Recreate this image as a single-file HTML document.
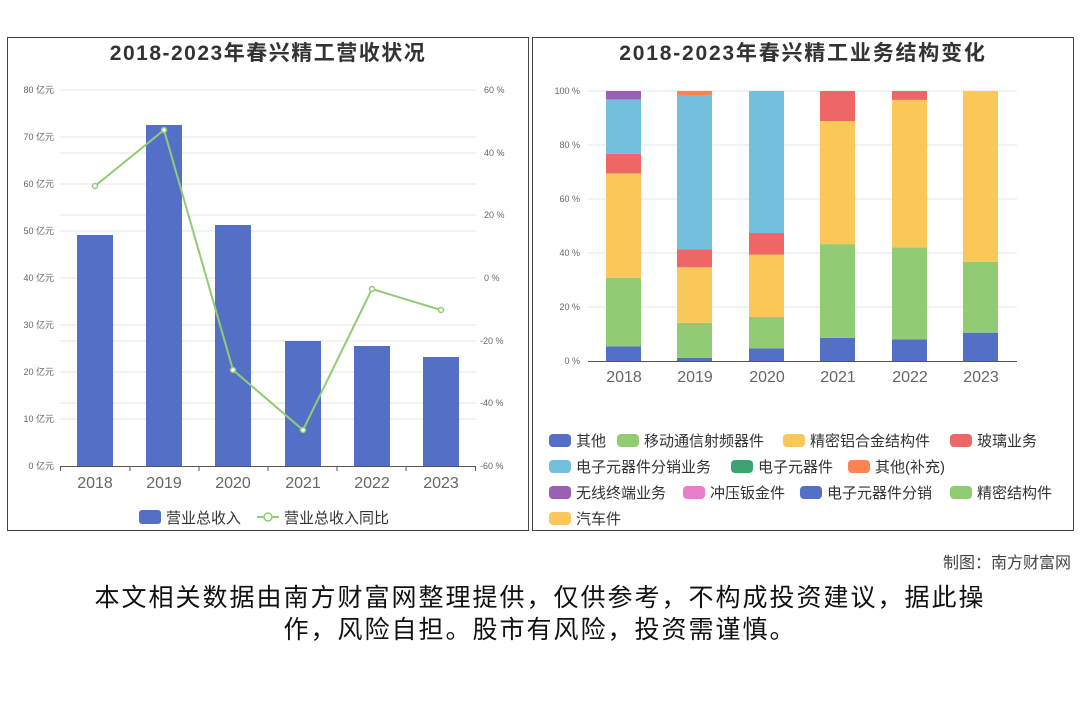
<!DOCTYPE html>
<html><head><meta charset="utf-8"><style>
body{margin:0;background:#fff;width:1080px;height:720px;overflow:hidden;font-family:"Liberation Sans","Noto Sans CJK SC",sans-serif}
</style></head><body>
<svg width="1080" height="720" xmlns="http://www.w3.org/2000/svg" font-family="Liberation Sans, Noto Sans CJK SC, sans-serif">
<rect x="7.5" y="37.5" width="521" height="493" fill="#fff" stroke="#444"/>
<rect x="532.5" y="37.5" width="541" height="493" fill="#fff" stroke="#444"/>
<text x="268" y="60" text-anchor="middle" font-size="21" font-weight="bold" fill="#333" letter-spacing="1.5">2018-2023年春兴精工营收状况</text>
<text x="803" y="60" text-anchor="middle" font-size="21" font-weight="bold" fill="#333" letter-spacing="1.8">2018-2023年春兴精工业务结构变化</text>
<g stroke="#e6e6e6">
<line x1="60" x2="476" y1="90" y2="90"/><line x1="60" x2="476" y1="137" y2="137"/><line x1="60" x2="476" y1="184" y2="184"/><line x1="60" x2="476" y1="231" y2="231"/><line x1="60" x2="476" y1="278" y2="278"/><line x1="60" x2="476" y1="325" y2="325"/><line x1="60" x2="476" y1="372" y2="372"/><line x1="60" x2="476" y1="419" y2="419"/>
<line x1="60" x2="476" y1="153" y2="153"/><line x1="60" x2="476" y1="215" y2="215"/><line x1="60" x2="476" y1="341" y2="341"/><line x1="60" x2="476" y1="403" y2="403"/>
</g>
<g font-size="9" fill="#666" text-anchor="end">
<text x="54" y="93">80 亿元</text><text x="54" y="140">70 亿元</text><text x="54" y="187">60 亿元</text><text x="54" y="234">50 亿元</text><text x="54" y="281">40 亿元</text><text x="54" y="328">30 亿元</text><text x="54" y="375">20 亿元</text><text x="54" y="422">10 亿元</text><text x="54" y="469">0 亿元</text>
</g>
<g font-size="9" fill="#666">
<text x="484" y="93">60 %</text><text x="484" y="218">20 %</text><text x="484" y="156">40 %</text><text x="484" y="281">0 %</text><text x="480" y="344">-20 %</text><text x="480" y="406">-40 %</text><text x="480" y="469">-60 %</text>
</g>
<g fill="#5470c6">
<rect x="77" y="235" width="36" height="231"/><rect x="146" y="125" width="36" height="341"/><rect x="215" y="225" width="36" height="241"/><rect x="285" y="341" width="36" height="125"/><rect x="354" y="346" width="36" height="120"/><rect x="423" y="357" width="36" height="109"/>
</g>
<line x1="60" x2="476" y1="466.5" y2="466.5" stroke="#555"/>
<g stroke="#555"><line x1="60.5" x2="60.5" y1="466" y2="471"/><line x1="130" x2="130" y1="466" y2="471"/><line x1="199" x2="199" y1="466" y2="471"/><line x1="268" x2="268" y1="466" y2="471"/><line x1="337" x2="337" y1="466" y2="471"/><line x1="406" x2="406" y1="466" y2="471"/><line x1="475.5" x2="475.5" y1="466" y2="471"/></g>
<g font-size="16" fill="#666" text-anchor="middle">
<text x="95" y="488">2018</text><text x="164" y="488">2019</text><text x="233" y="488">2020</text><text x="303" y="488">2021</text><text x="372" y="488">2022</text><text x="441" y="488">2023</text>
</g>
<polyline points="95,186 164,130 233,370 303,430 372,289 441,310" fill="none" stroke="#91cc75" stroke-width="2"/>
<g fill="#fff" stroke="#91cc75" stroke-width="1.5"><circle cx="95" cy="186" r="2.5"/><circle cx="164" cy="130" r="2.5"/><circle cx="233" cy="370" r="2.5"/><circle cx="303" cy="430" r="2.5"/><circle cx="372" cy="289" r="2.5"/><circle cx="441" cy="310" r="2.5"/></g>
<rect x="139" y="510" width="22" height="14" rx="3" fill="#5470c6"/>
<text x="166" y="523" font-size="15" fill="#333">营业总收入</text>
<line x1="257" x2="279" y1="517" y2="517" stroke="#91cc75" stroke-width="2"/><circle cx="268" cy="517" r="4" fill="#fff" stroke="#91cc75" stroke-width="1.5"/>
<text x="284" y="523" font-size="15" fill="#333">营业总收入同比</text>

<g stroke="#e6e6e6"><line x1="588" x2="1017" y1="91" y2="91"/><line x1="588" x2="1017" y1="145" y2="145"/><line x1="588" x2="1017" y1="199" y2="199"/><line x1="588" x2="1017" y1="253" y2="253"/><line x1="588" x2="1017" y1="307" y2="307"/></g>
<g font-size="9" fill="#666" text-anchor="end"><text x="580" y="94">100 %</text><text x="580" y="148">80 %</text><text x="580" y="202">60 %</text><text x="580" y="256">40 %</text><text x="580" y="310">20 %</text><text x="580" y="364">0 %</text></g>
<line x1="588" x2="1017" y1="361.5" y2="361.5" stroke="#555"/>
<g font-size="16" fill="#666" text-anchor="middle"><text x="624" y="382">2018</text><text x="695" y="382">2019</text><text x="767" y="382">2020</text><text x="838" y="382">2021</text><text x="910" y="382">2022</text><text x="981" y="382">2023</text></g>
<g font-size="15" fill="#333">
<rect x="549" y="434" width="22" height="13" rx="4" fill="#5470c6"/><text x="576" y="446">其他</text>
<rect x="617" y="434" width="22" height="13" rx="4" fill="#91cc75"/><text x="644" y="446">移动通信射频器件</text>
<rect x="783" y="434" width="22" height="13" rx="4" fill="#fac858"/><text x="810" y="446">精密铝合金结构件</text>
<rect x="950" y="434" width="22" height="13" rx="4" fill="#ee6666"/><text x="977" y="446">玻璃业务</text>
<rect x="549" y="460" width="22" height="13" rx="4" fill="#73c0de"/><text x="576" y="472">电子元器件分销业务</text>
<rect x="731" y="460" width="22" height="13" rx="4" fill="#3ba272"/><text x="758" y="472">电子元器件</text>
<rect x="848" y="460" width="22" height="13" rx="4" fill="#fc8452"/><text x="875" y="472">其他(补充)</text>
<rect x="549" y="486" width="22" height="13" rx="4" fill="#9a60b4"/><text x="576" y="498">无线终端业务</text>
<rect x="683" y="486" width="22" height="13" rx="4" fill="#ea7ccc"/><text x="710" y="498">冲压钣金件</text>
<rect x="800" y="486" width="22" height="13" rx="4" fill="#5470c6"/><text x="827" y="498">电子元器件分销</text>
<rect x="950" y="486" width="22" height="13" rx="4" fill="#91cc75"/><text x="977" y="498">精密结构件</text>
<rect x="549" y="512" width="22" height="13" rx="4" fill="#fac858"/><text x="576" y="524">汽车件</text>
</g>
<g>
<rect x="606" y="346.4" width="35" height="14.6" fill="#5470c6"/><rect x="606" y="277.8" width="35" height="68.6" fill="#91cc75"/><rect x="606" y="173.4" width="35" height="104.4" fill="#fac858"/><rect x="606" y="153.8" width="35" height="19.6" fill="#ee6666"/><rect x="606" y="99.4" width="35" height="54.4" fill="#73c0de"/><rect x="606" y="91" width="35" height="8.4" fill="#9a60b4"/>
<rect x="677" y="357.8" width="35" height="3.2" fill="#5470c6"/><rect x="677" y="322.9" width="35" height="34.9" fill="#91cc75"/><rect x="677" y="267.3" width="35" height="55.6" fill="#fac858"/><rect x="677" y="249.2" width="35" height="18.1" fill="#ee6666"/><rect x="677" y="95.6" width="35" height="153.6" fill="#73c0de"/><rect x="677" y="91" width="35" height="4.6" fill="#fc8452"/>
<rect x="749" y="348.3" width="35" height="12.7" fill="#5470c6"/><rect x="749" y="317" width="35" height="31.3" fill="#91cc75"/><rect x="749" y="254.6" width="35" height="62.4" fill="#fac858"/><rect x="749" y="233" width="35" height="21.6" fill="#ee6666"/><rect x="749" y="91" width="35" height="142" fill="#73c0de"/>
<rect x="820" y="337.8" width="35" height="23.2" fill="#5470c6"/><rect x="820" y="244.1" width="35" height="93.7" fill="#91cc75"/><rect x="820" y="121" width="35" height="123.1" fill="#fac858"/><rect x="820" y="91" width="35" height="30" fill="#ee6666"/>
<rect x="892" y="339.4" width="35" height="21.6" fill="#5470c6"/><rect x="892" y="247.3" width="35" height="92.1" fill="#91cc75"/><rect x="892" y="99.9" width="35" height="147.4" fill="#fac858"/><rect x="892" y="91" width="35" height="8.9" fill="#ee6666"/>
<rect x="963" y="332.7" width="35" height="28.3" fill="#5470c6"/><rect x="963" y="261.9" width="35" height="70.8" fill="#91cc75"/><rect x="963" y="91" width="35" height="170.9" fill="#fac858"/>
</g>
<text x="1071" y="568" text-anchor="end" font-size="16" fill="#444">制图：南方财富网</text>
<text x="540" y="606" text-anchor="middle" font-size="25" fill="#111" letter-spacing="2">本文相关数据由南方财富网整理提供，仅供参考，不构成投资建议，据此操</text>
<text x="540" y="638" text-anchor="middle" font-size="25" fill="#111" letter-spacing="2">作，风险自担。股市有风险，投资需谨慎。</text>
</svg>
</body></html>
